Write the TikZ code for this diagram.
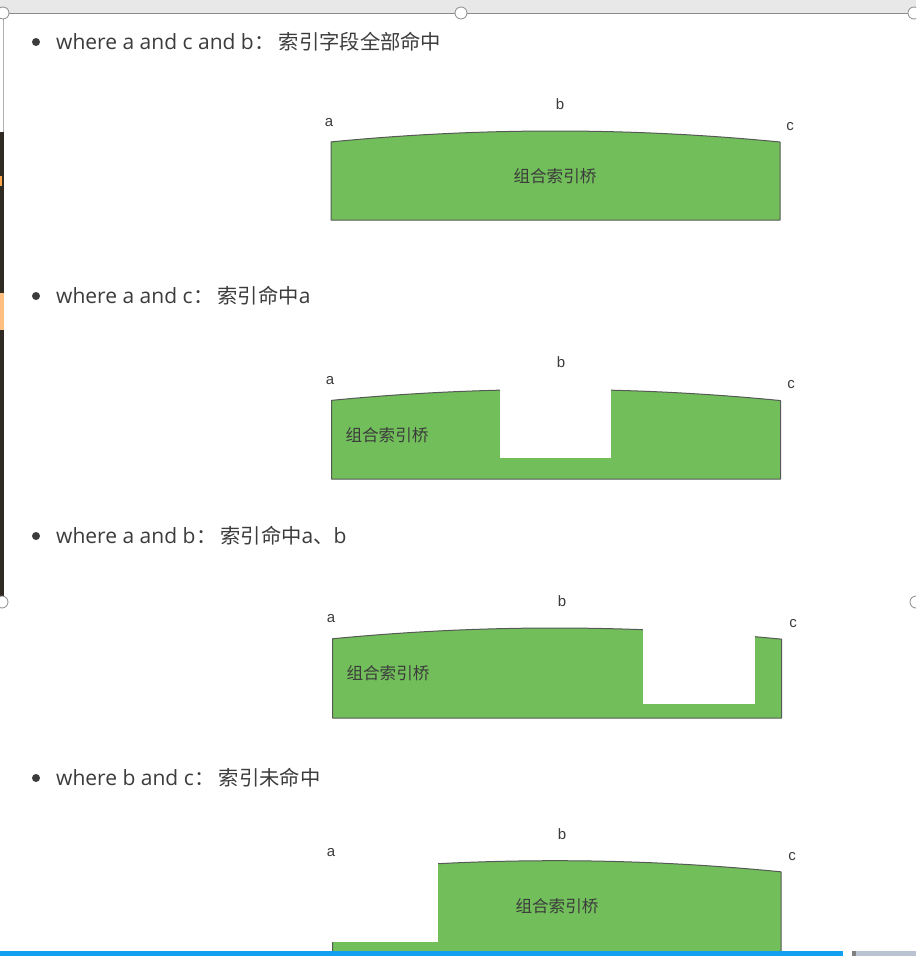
\documentclass[tikz,border=0pt]{standalone}
\usepackage{fontspec}
\setmainfont{Noto Sans CJK SC}
\newfontfamily\cjk{Noto Sans CJK SC}
\newfontfamily\lat{Open Sans}
\newfontfamily\arl{Liberation Sans}
\newcommand{\lt}[1]{{\lat\fontsize{21}{22}\selectfont #1}}
\newcommand{\colonbox}{\makebox[25pt][l]{\cjk\hspace{1pt}：}}
\begin{document}
\begin{tikzpicture}[x=1pt,y=-1pt,
  declare function={ptop(\x,\T)=\T+11*((\x-555)/225)^2;},
  bridge/.style={fill=bridgegreen,draw=edgegray,line width=1pt,line join=round},
  cutout/.style={fill=white},
  bullettext/.style={anchor=west,inner sep=0pt,font=\cjk\fontsize{20.3}{22}\selectfont,text=txtgray},
  lbl/.style={inner sep=0pt,font=\arl\fontsize{15}{16}\selectfont,text=txtgray},
  bname/.style={inner sep=0pt,font=\cjk\fontsize{16.6}{18}\selectfont,text=txtgray},
  bulletdot/.style={circle,fill=txtgray,inner sep=0pt,minimum size=8pt},
  handle/.style={circle,draw=handlegray,fill=white,line width=0.8pt,inner sep=0pt,minimum size=12pt}]
\definecolor{bridgegreen}{RGB}{113,190,90}
\definecolor{edgegray}{RGB}{85,90,85}
\definecolor{txtgray}{RGB}{60,60,60}
\definecolor{handlegray}{RGB}{140,140,140}
\definecolor{topband}{RGB}{232,232,232}
\definecolor{barblue}{RGB}{20,160,240}
\definecolor{bargray}{RGB}{185,195,210}
\definecolor{darkstrip}{RGB}{47,42,34}
\useasboundingbox (0,0) rectangle (916,956);
\clip (0,0) rectangle (916,956);
\fill[white] (0,0) rectangle (916,956);
% window chrome
\fill[topband] (0,0) rectangle (916,13);
\fill[darkstrip] (0,132) rectangle (4,597);
\fill[orange!70] (0,176) rectangle (2,186);
\fill[orange!50] (0,293) rectangle (4,330);
\draw[handlegray,line width=1pt] (0,13) -- (916,13);
\draw[handlegray!70,line width=0.8pt] (3.5,13) -- (3.5,132);
% bullets
\node[bulletdot] (d1) at (36,42) {};
\node[bullettext] (t1) at (56,42) {\lt{where a and c and b}\colonbox 索引字段全部命中};
\node[bulletdot] (d2) at (36,296) {};
\node[bullettext] (t2) at (56,296) {\lt{where a and c}\colonbox 索引命中\lt{a}};
\node[bulletdot] (d3) at (36,536) {};
\node[bullettext] (t3) at (56,536) {\lt{where a and b}\colonbox 索引命中\lt{a}、\lt{b}};
\node[bulletdot] (d4) at (36,778) {};
\node[bullettext] (t4) at (56,778) {\lt{where b and c}\colonbox 索引未命中};
% bridge 1
\draw[bridge] (331,220) -- plot[domain=331:780,samples=50] (\x,{ptop(\x,131)}) -- (780,220) -- cycle;
\node[bname] (n1) at (555,176) {组合索引桥};
\node[lbl] (a1) at (329,123) {a};
\node[lbl] (b1) at (560,104) {b};
\node[lbl] (c1) at (790,127) {c};
% bridge 2
\draw[bridge] (331.5,479) -- plot[domain=331.5:780.5,samples=50] (\x,{ptop(\x,389.5)}) -- (780.5,479) -- cycle;
\fill[cutout] (500,380) rectangle (611,457.5);
\node[bname] (n2) at (387,435) {组合索引桥};
\node[lbl] (a2) at (330,381) {a};
\node[lbl] (b2) at (561,362) {b};
\node[lbl] (c2) at (791,385) {c};
% bridge 3
\draw[bridge] (332.7,718) -- plot[domain=332.7:781.7,samples=50] (\x,{ptop(\x,628)}) -- (781.7,718) -- cycle;
\fill[cutout] (643.3,620) rectangle (755,704);
\node[bname] (n3) at (388,673) {组合索引桥};
\node[lbl] (a3) at (331,619) {a};
\node[lbl] (b3) at (562,601) {b};
\node[lbl] (c3) at (793,624) {c};
% bridge 4
\draw[bridge] (332.7,958) -- plot[domain=332.7:781,samples=50] (\x,{ptop(\x,860.7)}) -- (781,958) -- cycle;
\fill[cutout] (330,850) rectangle (438.3,941.5);
\node[bname] (n4) at (557,906) {组合索引桥};
\node[lbl] (a4) at (331,853) {a};
\node[lbl] (b4) at (562,834) {b};
\node[lbl] (c4) at (792,857) {c};
% bottom bars
\fill[barblue] (0,951) rectangle (843,956);
\fill[bargray] (852,951) rectangle (916,956);
\fill[gray] (852,951) rectangle (856,956);
% handles
\node[handle] (h1) at (3,13) {};
\node[handle] (h2) at (461,13) {};
\node[handle] (h3) at (914,13) {};
\node[handle] (h4) at (2,602) {};
\node[handle] (h5) at (916,602) {};
\end{tikzpicture}
\end{document}
